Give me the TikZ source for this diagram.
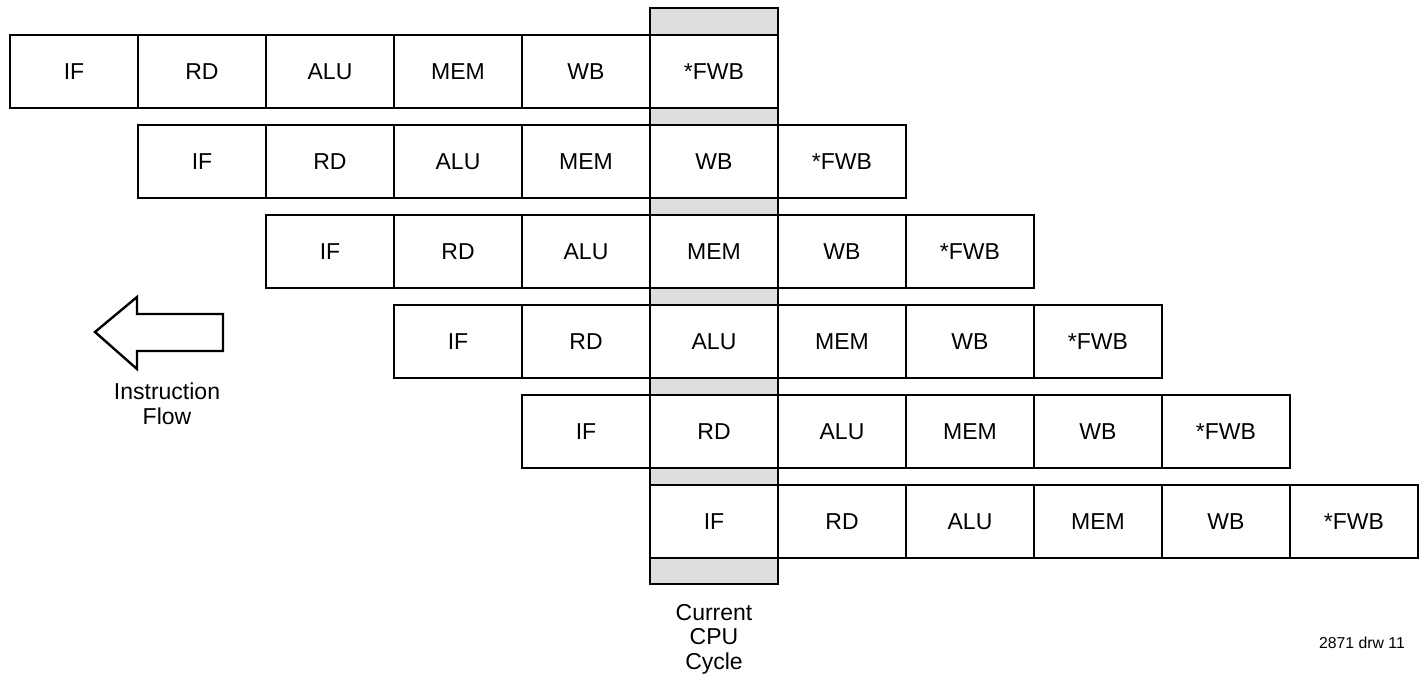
\documentclass[tikz,border=0pt]{standalone}
\usepackage{fontspec}
\setmainfont{Liberation Sans}
\definecolor{cyclegray}{RGB}{222,222,222}

\begin{document}
\begin{tikzpicture}[x=1pt,y=-1pt,
  stage/.style={draw,fill=white,line width=2.4pt,minimum width=128pt,minimum height=73pt,inner sep=0pt,text height=16.5pt,text depth=0pt,font=\fontsize{23}{26}\selectfont},
  note/.style={align=center,inner sep=0pt,font=\fontsize{23}{24.5}\selectfont}]
\useasboundingbox (0,0) rectangle (1427,674);

% current cycle column
\filldraw [fill=cyclegray,line width=2.4pt] (650,8) rectangle (778,584);

% pipeline rows
\foreach \r in {0,...,5}{
  \foreach \s [count=\j from 0] in {IF,RD,ALU,MEM,WB,*FWB}{
    \node [stage] (c\r\j) at ({74+128*(\r+\j)},{71.5+90*\r}) {\s};
  }
}

% instruction flow arrow
\draw [line width=2.4pt,line join=miter] (95,332)--(137,297)--(137,314)--(223,314)--(223,351)--(137,351)--(137,369)--cycle;
\node [note] (flow) at (167,404) {Instruction\\Flow};

\node [note] (cycle) at (714,639) {Current\\CPU\\Cycle};
\node [inner sep=0pt,font=\fontsize{15.8}{18}\selectfont] (drw) at (1362,643) {2871 drw 11};

\end{tikzpicture}
\end{document}
